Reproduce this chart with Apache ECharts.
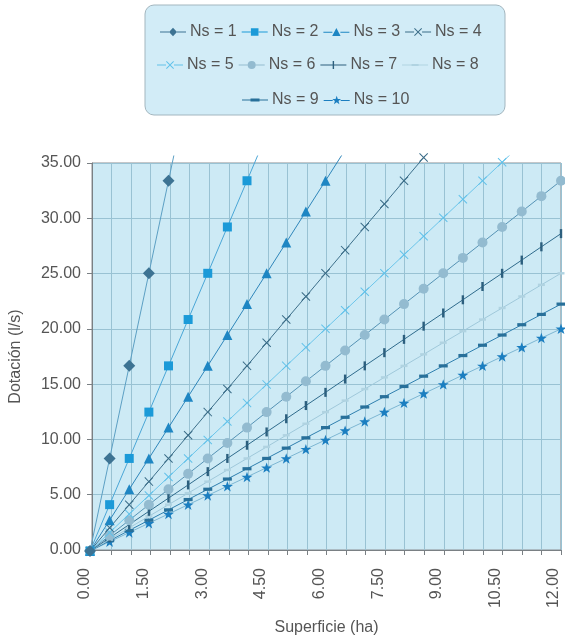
<!DOCTYPE html>
<html>
<head>
<meta charset="utf-8">
<script src="https://cdn.jsdelivr.net/npm/echarts@6/dist/echarts.min.js"></script>
<style>html,body{margin:0;padding:0;background:#fff}#c{width:565px;height:641px}</style>
</head>
<body>
<div id="c"></div>
<script>
// ---- data ----
const xValues = [0,0.5,1,1.5,2,2.5,3,3.5,4,4.5,5,5.5,6,6.5,7,7.5,8,8.5,9,9.5,10,10.5,11,11.5,12];
const seriesNames = ['Ns = 1','Ns = 2','Ns = 3','Ns = 4','Ns = 5','Ns = 6','Ns = 7','Ns = 8','Ns = 9','Ns = 10'];
const ns1  = [0,8.35,16.70,25.05,33.40,41.75];
const ns2  = [0,4.18,8.35,12.53,16.70,20.88,25.05,29.23,33.40,37.58];
const ns3  = [0,2.78,5.57,8.35,11.13,13.92,16.70,19.48,22.27,25.05,27.83,30.62,33.40,36.18];
const ns4  = [0,2.09,4.18,6.26,8.35,10.44,12.53,14.61,16.70,18.79,20.88,22.96,25.05,27.14,29.23,31.31,33.40,35.49,37.58];
const ns5  = [0,1.67,3.34,5.01,6.68,8.35,10.02,11.69,13.36,15.03,16.70,18.37,20.04,21.71,23.38,25.05,26.72,28.39,30.06,31.73,33.40,35.07,36.74];
const ns6  = [0,1.39,2.78,4.18,5.57,6.96,8.35,9.74,11.13,12.53,13.92,15.31,16.70,18.09,19.48,20.88,22.27,23.66,25.05,26.44,27.83,29.23,30.62,32.01,33.40];
const ns7  = [0,1.19,2.39,3.58,4.77,5.96,7.16,8.35,9.54,10.74,11.93,13.12,14.31,15.51,16.70,17.89,19.09,20.28,21.47,22.66,23.86,25.05,26.24,27.44,28.63];
const ns8  = [0,1.04,2.09,3.13,4.18,5.22,6.26,7.31,8.35,9.39,10.44,11.48,12.53,13.57,14.61,15.66,16.70,17.74,18.79,19.83,20.88,21.92,22.96,24.01,25.05];
const ns9  = [0,0.93,1.86,2.78,3.71,4.64,5.57,6.49,7.42,8.35,9.28,10.21,11.13,12.06,12.99,13.92,14.84,15.77,16.70,17.63,18.56,19.48,20.41,21.34,22.27];
const ns10 = [0,0.84,1.67,2.51,3.34,4.18,5.01,5.85,6.68,7.52,8.35,9.19,10.02,10.86,11.69,12.53,13.36,14.20,15.03,15.87,16.70,17.54,18.37,19.21,20.04];
const seriesValues = [ns1,ns2,ns3,ns4,ns5,ns6,ns7,ns8,ns9,ns10];
const yTicks = [0,5,10,15,20,25,30,35];
const xLabelTicks = [0,1.5,3,4.5,6,7.5,9,10.5,12];

// ---- styles ----
const FONT = 'Liberation Sans';
const markerColors = ['#3d7393','#1b9ad8','#1e86c3','#3b6d88','#62c2ea','#93bbd0','#2c5f7e','#b0d3e1','#28709a','#1b7ec0'];
const lineColors   = ['#5c9fc3','#4aa6d6','#2f86ba','#3d6f8a','#6cc5ea','#5592b4','#2f6b8c','#9fc8da','#2f7fae','#7db6d2'];
const X_PATH = 'path://M0,0.8L0.8,0L5,4.2L9.2,0L10,0.8L5.8,5L10,9.2L9.2,10L5,5.8L0.8,10L0,9.2L4.2,5Z';
const symbols = ['diamond','rect','triangle',X_PATH,X_PATH,'circle',
  'rect','rect','rect','path://M50,0L61.8,34.5L97.6,34.5L68.8,56L79.4,90.5L50,69.5L20.6,90.5L31.2,56L2.4,34.5L38.2,34.5Z'];
const symbolSizes = [12,9,10,9,9,10,[2.4,9],[7,2.4],[9,3.2],11];

// legend icons: line + marker, in a 26 x 10 box
const L = 'M0,4.5L9,4.5L9,5.5L0,5.5ZM17,4.5L26,4.5L26,5.5L17,5.5Z';
const LF = 'M0,4.5L26,4.5L26,5.5L0,5.5Z';
const icons = [
  'path://'+L+'M13,0.8L17,5L13,9.2L9,5Z',
  'path://'+L+'M9.2,1.2L16.8,1.2L16.8,8.8L9.2,8.8Z',
  'path://'+L+'M13,0.8L17.2,8.8L8.8,8.8Z',
  'path://'+L+'M9,1.7L9.7,1L13,4.3L16.3,1L17,1.7L13.7,5L17,8.3L16.3,9L13,5.7L9.7,9L9,8.3L12.3,5Z',
  'path://'+L+'M9,1.7L9.7,1L13,4.3L16.3,1L17,1.7L13.7,5L17,8.3L16.3,9L13,5.7L9.7,9L9,8.3L12.3,5Z',
  'path://'+L+'M9,5A4,4 0 1,1 17,5A4,4 0 1,1 9,5Z',
  'path://'+LF+'M12.3,1L13.7,1L13.7,9L12.3,9Z',
  'path://'+LF+'M9.5,4L16.5,4L16.5,6L9.5,6Z',
  'path://'+LF+'M8.5,3.4L17.5,3.4L17.5,6.6L8.5,6.6Z',
  'path://'+L+'M13,0.4L14.12,3.46L17.38,3.58L14.81,5.59L15.7,8.72L13,6.9L10.3,8.72L11.19,5.59L8.62,3.58L11.88,3.46Z'
];

const GRID_LEFT = 90, GRID_RIGHT = 4, GRID_TOP = 163, GRID_BOTTOM = 90, CLIP_TOP = 156;
const Y_MAX = 35;
const Y_CLIP_MAX = Y_MAX * (641 - CLIP_TOP - GRID_BOTTOM) / (641 - GRID_TOP - GRID_BOTTOM);

const series = seriesValues.map((vals, i) => ({
  name: seriesNames[i],
  type: 'line',
  xAxisIndex: 1, yAxisIndex: 1,
  data: vals.map((v, j) => [xValues[j], v]),
  symbol: symbols[i],
  symbolSize: symbolSizes[i],
  symbolKeepAspect: true,
  showAllSymbol: true,
  clip: true,
  animation: false,
  z: 20 - i,
  itemStyle: { color: markerColors[i] },
  lineStyle: { color: lineColors[i], width: 1 },
  emphasis: { disabled: true }
}));

const legendRow = (idxs, left, top) => ({
  data: idxs.map(i => ({ name: seriesNames[i], icon: icons[i] })),
  left: left, top: top, orient: 'horizontal',
  itemWidth: 26, itemHeight: 10, itemGap: 5, padding: 0,
  selectedMode: false,
  textStyle: { fontFamily: FONT, fontSize: 16, color: '#555', padding: [0, 0, 0, -1] }
});

const chart = echarts.init(document.getElementById('c'), null, { renderer: 'canvas' });
chart.setOption({
  animation: false,
  backgroundColor: '#fff',
  textStyle: { fontFamily: FONT },
  graphic: [{
    type: 'rect', z: 0,
    shape: { x: 145, y: 5, width: 360, height: 110, r: 9 },
    style: { fill: '#d2ecf7', stroke: '#a3b6bf', lineWidth: 1 }
  }],
  legend: [
    legendRow([0,1,2,3], 160, 24),
    legendRow([4,5,6,7], 157, 57),
    legendRow([8,9], 242, 92)
  ],
  grid: [
    { left: GRID_LEFT, right: GRID_RIGHT, top: GRID_TOP, bottom: GRID_BOTTOM, show: true,
      backgroundColor: '#cdeaf5', borderColor: '#8a8f93', borderWidth: 1 },
    { left: GRID_LEFT, right: GRID_RIGHT, top: CLIP_TOP, bottom: GRID_BOTTOM }
  ],
  xAxis: [
    { type: 'value', gridIndex: 0, min: 0, max: 12, interval: 0.5,
      name: 'Superficie (ha)', nameLocation: 'middle', nameGap: 70,
      nameTextStyle: { fontFamily: FONT, fontSize: 16, color: '#555' },
      axisLine: { show: true, lineStyle: { color: '#7a8084', width: 1 } },
      axisTick: { show: true, length: 5, lineStyle: { color: '#7a8084' } },
      axisLabel: { rotate: 90, margin: 18, fontSize: 16, color: '#555', fontFamily: FONT,
        verticalAlign: 'bottom', lineHeight: 14,
        formatter: v => xLabelTicks.some(t => Math.abs(t - v) < 1e-6) ? v.toFixed(2) : '' },
      splitLine: { show: true, lineStyle: { color: '#99c2d3', width: 1 } } },
    { type: 'value', gridIndex: 1, min: 0, max: 12, show: false }
  ],
  yAxis: [
    { type: 'value', gridIndex: 0, min: yTicks[0], max: Y_MAX, interval: 5,
      name: 'Dotación (l/s)', nameLocation: 'middle', nameGap: 68, nameRotate: 90,
      nameTextStyle: { fontFamily: FONT, fontSize: 16, color: '#555' },
      axisLine: { show: true, lineStyle: { color: '#7a8084', width: 1 } },
      axisTick: { show: true, length: 5, lineStyle: { color: '#7a8084' } },
      axisLabel: { margin: 11, fontSize: 16, color: '#555', fontFamily: FONT,
        formatter: v => v.toFixed(2) },
      splitLine: { show: true, lineStyle: { color: '#99c2d3', width: 1 } } },
    { type: 'value', gridIndex: 1, min: 0, max: Y_CLIP_MAX, show: false }
  ],
  series: series
});
</script>
</body>
</html>
